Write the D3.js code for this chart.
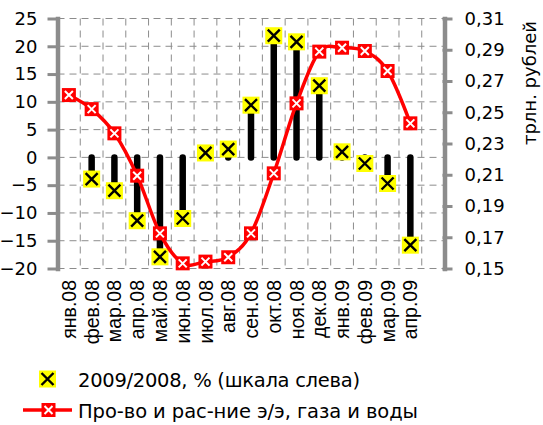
<!DOCTYPE html>
<html>
<head>
<meta charset="utf-8">
<script src="https://cdn.jsdelivr.net/npm/d3@7"></script>
<style>
  body { margin: 0; background: #fff; }
  svg { display: block; }
</style>
</head>
<body>
<script>
// Monthly categories
const months = ["янв.08", "фев.08", "мар.08", "апр.08", "май.08", "июн.08", "июл.08", "авг.08",
                "сен.08", "окт.08", "ноя.08", "дек.08", "янв.09", "фев.09", "мар.09", "апр.09"];

// Year-on-year change, % (left scale); no value for the first month
const growthPct = [null, -3.9, -6.0, -11.4, -17.9, -11.0, 0.8, 1.5,
                   9.4, 21.9, 20.8, 12.9, 1.0, -1.1, -4.7, -15.8];

// Production and distribution of electricity, gas and water, trillion roubles (right scale)
const utilitiesOutput = [0.261, 0.252, 0.2365, 0.2094, 0.1725, 0.1533, 0.1544, 0.1572,
                         0.1725, 0.2109, 0.2557, 0.2888, 0.2913, 0.2892, 0.2764, 0.2429];

const leftTicks = [-20, -15, -10, -5, 0, 5, 10, 15, 20, 25];
const rightTicks = [0.15, 0.17, 0.19, 0.21, 0.23, 0.25, 0.27, 0.29, 0.31];
const rightTickLabels = ["0,15", "0,17", "0,19", "0,21", "0,23", "0,25", "0,27", "0,29", "0,31"];

const seriesNames = ["2009/2008, % (шкала слева)", "Про-во и рас-ние э/э, газа и воды"];
const rightTitle = "трлн. рублей";

const W = 543, H = 425;
const plot = { left: 57.5, right: 444.5, top: 18.5, bottom: 268.5 };
const slots = months.length + 1; // one spare slot after the last month

const svg = d3.select("body").append("svg").attr("width", W).attr("height", H);

const x = d3.scaleBand()
  .domain(months)
  .range([plot.left, plot.left + (plot.right - plot.left) * months.length / slots])
  .padding(0);
const cx = m => x(m) + x.bandwidth() / 2;

const yL = d3.scaleLinear().domain([-20, 25]).range([plot.bottom, plot.top]);
const yR = d3.scaleLinear().domain([0.15, 0.31]).range([plot.bottom, plot.top]);

const gridColor = "#8c8c8c";
const axisColor = "#8c8c8c";

// Horizontal gridlines
svg.append("g").selectAll("line").data(leftTicks).join("line")
  .attr("x1", plot.left).attr("x2", plot.right)
  .attr("y1", d => yL(d)).attr("y2", d => yL(d))
  .attr("stroke", gridColor).attr("stroke-width", 1)
  .attr("stroke-dasharray", "7,5");

// Vertical gridlines at category boundaries
const vLines = months.slice(1).map(m => x(m)).concat([x.range()[1]]);
svg.append("g").selectAll("line").data(vLines).join("line")
  .attr("x1", d => d).attr("x2", d => d)
  .attr("y1", plot.top).attr("y2", plot.bottom)
  .attr("stroke", gridColor).attr("stroke-width", 1)
  .attr("stroke-dasharray", "7,5");

// Left axis
const axL = svg.append("g").attr("transform", `translate(${plot.left},0)`)
  .call(d3.axisLeft(yL).tickValues(leftTicks).tickSizeInner(10).tickSizeOuter(0).tickPadding(10));
axL.select(".domain").attr("stroke", axisColor).attr("stroke-width", 4.5).attr("stroke-linecap", "square");
axL.selectAll(".tick line").attr("stroke", axisColor).attr("stroke-width", 3).attr("x2", -10).attr("x1", 2);
axL.selectAll(".tick text").attr("font-family", "DejaVu Sans").attr("font-size", 18).attr("fill", "#000");

// Right axis
const axR = svg.append("g").attr("transform", `translate(${plot.right},0)`)
  .call(d3.axisRight(yR).tickValues(rightTicks)
    .tickFormat((d, i) => rightTickLabels[i])
    .tickSizeInner(8).tickSizeOuter(0).tickPadding(12));
axR.select(".domain").attr("stroke", axisColor).attr("stroke-width", 4.5).attr("stroke-linecap", "square");
axR.selectAll(".tick line").attr("stroke", axisColor).attr("stroke-width", 3).attr("x1", -2);
axR.selectAll(".tick text").attr("font-family", "DejaVu Sans").attr("font-size", 18).attr("fill", "#000");

// Right axis title
svg.append("text")
  .attr("transform", `translate(536, 83) rotate(-90)`)
  .attr("text-anchor", "middle")
  .attr("font-family", "DejaVu Sans").attr("font-size", 18)
  .text(rightTitle);

// Category labels
svg.append("g").selectAll("text").data(months).join("text")
  .attr("transform", m => `translate(${cx(m)}, 280) rotate(-90)`)
  .attr("text-anchor", "end")
  .attr("dy", "0.36em")
  .attr("font-family", "Liberation Sans").attr("font-size", 19.5)
  .text(m => m);

// Growth series: drop bars from zero plus yellow markers
const growth = months.map((m, i) => ({ m, v: growthPct[i] })).filter(d => d.v !== null);

svg.append("g").selectAll("line").data(growth).join("line")
  .attr("x1", d => cx(d.m)).attr("x2", d => cx(d.m))
  .attr("y1", yL(0)).attr("y2", d => yL(d.v))
  .attr("stroke", "#000").attr("stroke-width", 6.5).attr("stroke-linecap", "round");

function yellowMarker(g) {
  g.append("rect").attr("x", -8.5).attr("y", -8.5).attr("width", 17).attr("height", 17).attr("fill", "#ffff00");
  g.append("path").attr("d", "M-6,-6L6,6M6,-6L-6,6").attr("stroke", "#000").attr("stroke-width", 2.4);
}
function redMarker(g) {
  g.append("rect").attr("x", -7).attr("y", -7).attr("width", 14).attr("height", 14).attr("fill", "#ff0000");
  g.append("path").attr("d", "M-4,-4L4,4M4,-4L-4,4").attr("stroke", "#fff").attr("stroke-width", 2);
}

svg.append("g").selectAll("g").data(growth).join("g")
  .attr("transform", d => `translate(${cx(d.m)},${yL(d.v)})`)
  .each(function () { yellowMarker(d3.select(this)); });

// Utilities output: smoothed red line with markers
const output = months.map((m, i) => ({ m, v: utilitiesOutput[i] }));
const line = d3.line().x(d => cx(d.m)).y(d => yR(d.v)).curve(d3.curveCardinal.tension(0));
svg.append("path").datum(output)
  .attr("d", line).attr("fill", "none")
  .attr("stroke", "#ff0000").attr("stroke-width", 3.5);

svg.append("g").selectAll("g").data(output).join("g")
  .attr("transform", d => `translate(${cx(d.m)},${yR(d.v)})`)
  .each(function () { redMarker(d3.select(this)); });

// Legend
const lg = svg.append("g");
yellowMarker(lg.append("g").attr("transform", "translate(47.5,379)"));
lg.append("text").attr("x", 78).attr("y", 386.5)
  .attr("font-family", "DejaVu Sans").attr("font-size", 19.5)
  .attr("textLength", 282).attr("lengthAdjust", "spacing")
  .text(seriesNames[0]);

lg.append("line").attr("x1", 23).attr("x2", 72).attr("y1", 410).attr("y2", 410)
  .attr("stroke", "#ff0000").attr("stroke-width", 3.5);
redMarker(lg.append("g").attr("transform", "translate(48.5,410)"));
lg.append("text").attr("x", 78).attr("y", 417.5)
  .attr("font-family", "DejaVu Sans").attr("font-size", 19.5)
  .attr("textLength", 340).attr("lengthAdjust", "spacing")
  .text(seriesNames[1]);
</script>
</body>
</html>
